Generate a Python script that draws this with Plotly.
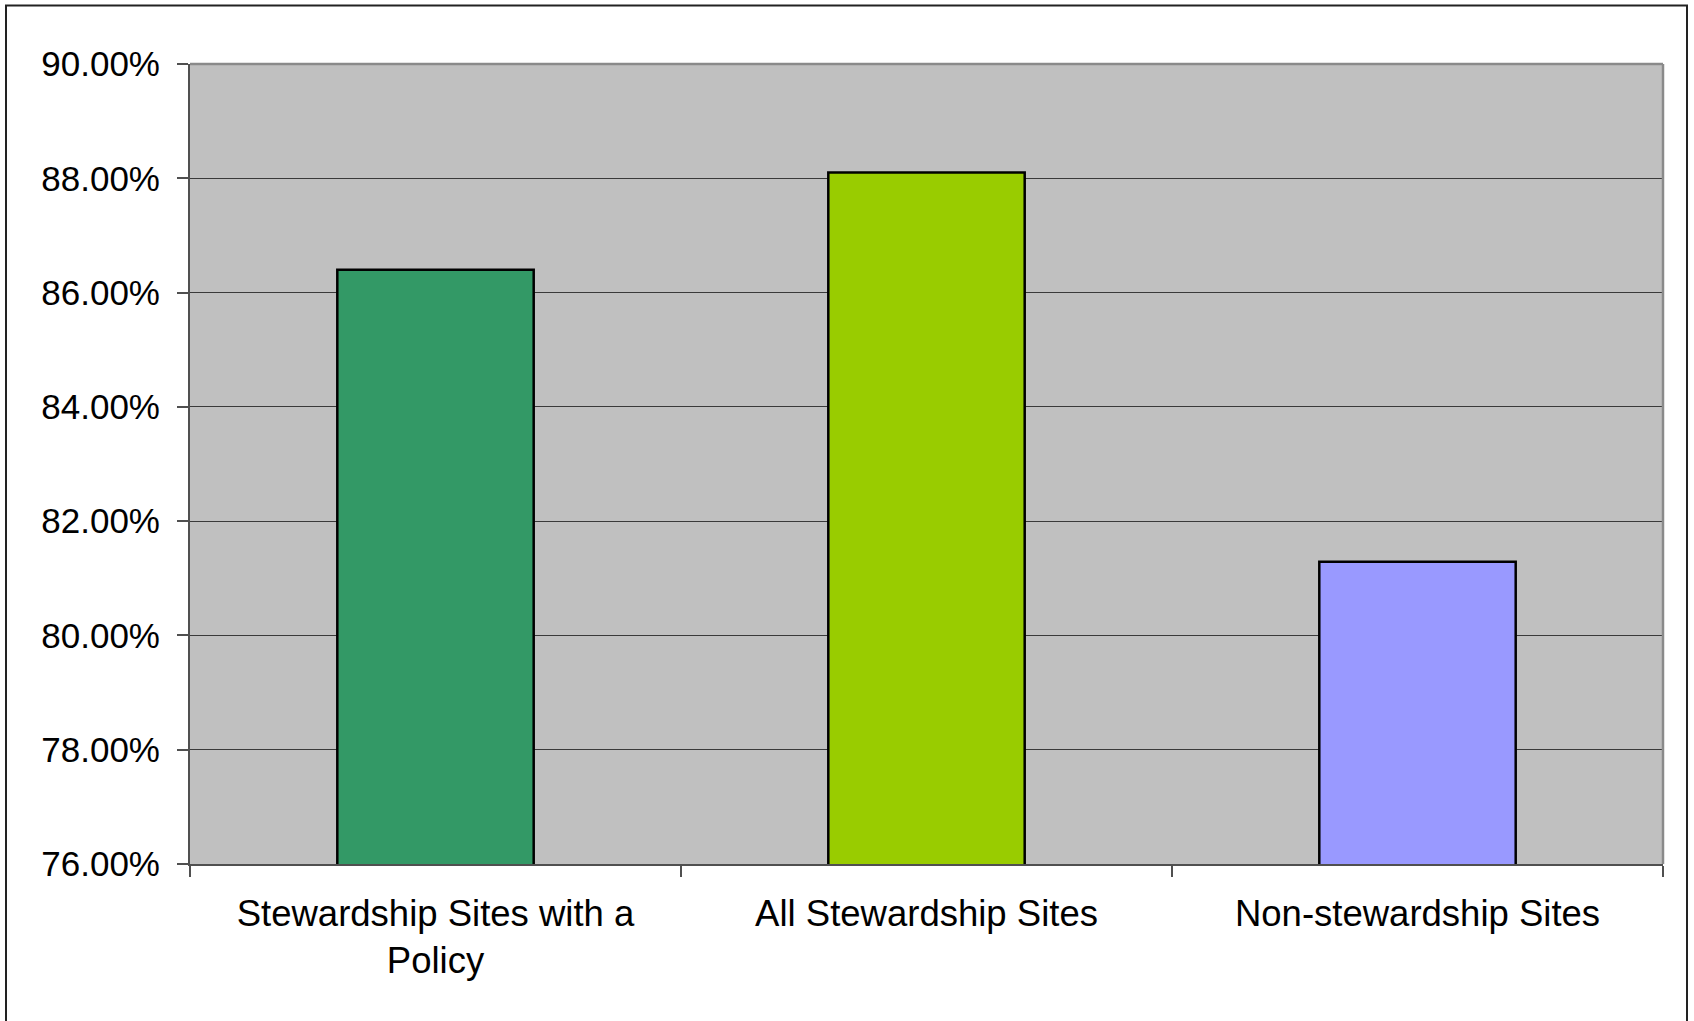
import plotly.graph_objects as go

categories = ["Stewardship Sites with a<br>Policy", "All Stewardship Sites", "Non-stewardship Sites"]
values = [0.8640, 0.8810, 0.8129]
bar_colors = ["#339966", "#99CC00", "#9999FF"]
tick_vals = [0.76, 0.78, 0.80, 0.82, 0.84, 0.86, 0.88, 0.90]
tick_text = ["76.00%", "78.00%", "80.00%", "82.00%", "84.00%", "86.00%", "88.00%", "90.00%"]

W, H = 1694, 1021
L, R, T, B = 190, 31, 64, 157
pw, ph = W - L - R, H - T - B

fig = go.Figure()
fig.add_trace(go.Bar(
    x=categories, y=values,
    marker=dict(color=bar_colors, line=dict(color="black", width=2.5)),
    width=0.4,
    showlegend=False,
))

font = dict(family="Liberation Sans, Arial, sans-serif", size=35, color="black")
xfont = dict(family="Liberation Sans, Arial, sans-serif", size=36.5, color="black")

fig.update_layout(
    width=W, height=H,
    margin=dict(l=L, r=R, t=T, b=B, pad=0),
    paper_bgcolor="white",
    plot_bgcolor="#C0C0C0",
    font=font,
    bargap=0.6,
    xaxis=dict(
        type="category",
        showgrid=False,
        showline=True, linecolor="#505050", linewidth=2,
        ticks="outside", ticklen=11, tickwidth=1.5, tickcolor="#505050",
        tickson="boundaries",
        tickfont=xfont,
        ticklabelstandoff=16,
        mirror=False,
    ),
    yaxis=dict(
        range=[0.76, 0.90],
        tickvals=tick_vals, ticktext=tick_text,
        showgrid=True, gridcolor="#3a3a3a", gridwidth=1.2,
        showline=True, linecolor="#505050", linewidth=2,
        ticks="outside", ticklen=11, tickwidth=1.5, tickcolor="#505050",
        tickfont=font,
        ticklabelstandoff=10,
        zeroline=False,
    ),
)

# plot area frame (top/right in lighter gray)
fig.add_shape(type="line", xref="paper", yref="paper", x0=0, x1=1, y0=1, y1=1,
              line=dict(color="#8a8a8a", width=2.5), layer="above")
fig.add_shape(type="line", xref="paper", yref="paper", x0=1, x1=1, y0=0, y1=1,
              line=dict(color="#8a8a8a", width=2.5), layer="above")

# outer chart border
x0 = (6 - L) / pw
x1 = (1687 - L) / pw
y_top = (H - B - 5.5) / ph
y_bot = (H - B - 1030) / ph
fig.add_shape(type="rect", xref="paper", yref="paper", x0=x0, x1=x1, y0=y_bot, y1=y_top,
              line=dict(color="#222222", width=2), fillcolor="rgba(0,0,0,0)", layer="above")

fig.write_html("out.html")
